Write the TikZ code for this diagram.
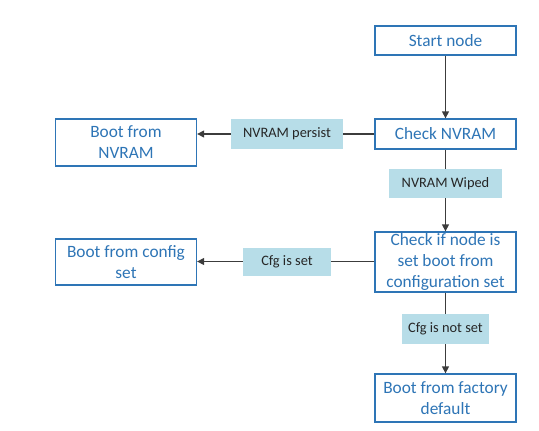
\documentclass[tikz,border=0pt]{standalone}
\usepackage{fontspec}
\setmainfont{Carlito}
\usetikzlibrary{arrows.meta}
\definecolor{boxblue}{RGB}{46,117,182}
\definecolor{tagblue}{RGB}{183,221,232}
\definecolor{wire}{RGB}{60,60,60}
\tikzset{
  stepbox/.style={draw=boxblue, line width=1.3pt, fill=white, text=boxblue,
    minimum width=141pt, align=center, inner sep=0pt,
    font=\fontsize{17.3pt}{21pt}\selectfont},
  tag/.style={fill=tagblue, text=black!85, inner sep=0pt, align=center,
    font=\fontsize{14.4pt}{17pt}\selectfont},
  wireline/.style={draw=wire, line width=1.3pt},
  flow/.style={wireline, -{Triangle[length=7pt,width=7pt]}}
}
\begin{document}
\begin{tikzpicture}[x=1pt,y=-1pt]
\useasboundingbox (0,0) rectangle (539,431);
% boxes
\node[stepbox, minimum height=29pt] (start) at (445.5,40.5) {Start node};
\node[stepbox, minimum height=30pt] (nvram) at (445.5,134) {Check NVRAM};
\node[stepbox, minimum height=47pt] (bootnv) at (126,142.5) {Boot from\\NVRAM};
\node[stepbox, minimum height=60pt] (cfgchk) at (445.5,262) {Check if node is\\set boot from\\configuration set};
\node[stepbox, minimum height=46pt] (bootcfg) at (126,262) {Boot from config\\set};
\node[stepbox, minimum height=48pt] (factory) at (445.5,398) {Boot from factory\\default};
% labels on the wires
\node[tag, minimum width=113pt, minimum height=29pt] (wiped) at (445.5,183.5) {NVRAM Wiped};
\node[tag, minimum width=112pt, minimum height=30pt] (persist) at (287,134) {NVRAM persist};
\node[tag, minimum width=88pt, minimum height=28pt] (cfgset) at (287,261.5) {Cfg is set};
\node[tag, minimum width=87pt, minimum height=30pt] (notset) at (445.5,329) {Cfg is not set};
% wires
\draw[flow] (start) -- (nvram);
\draw[wireline] (nvram) -- (wiped);
\draw[flow] (wiped) -- (cfgchk);
\draw[wireline] (nvram) -- (persist);
\draw[flow] (persist) -- (persist -| bootnv.east);
\draw[wireline] (cfgchk.west |- cfgset) -- (cfgset);
\draw[flow] (cfgset) -- (cfgset -| bootcfg.east);
\draw[wireline] (cfgchk) -- (notset);
\draw[flow] (notset) -- (factory);
\end{tikzpicture}
\end{document}
